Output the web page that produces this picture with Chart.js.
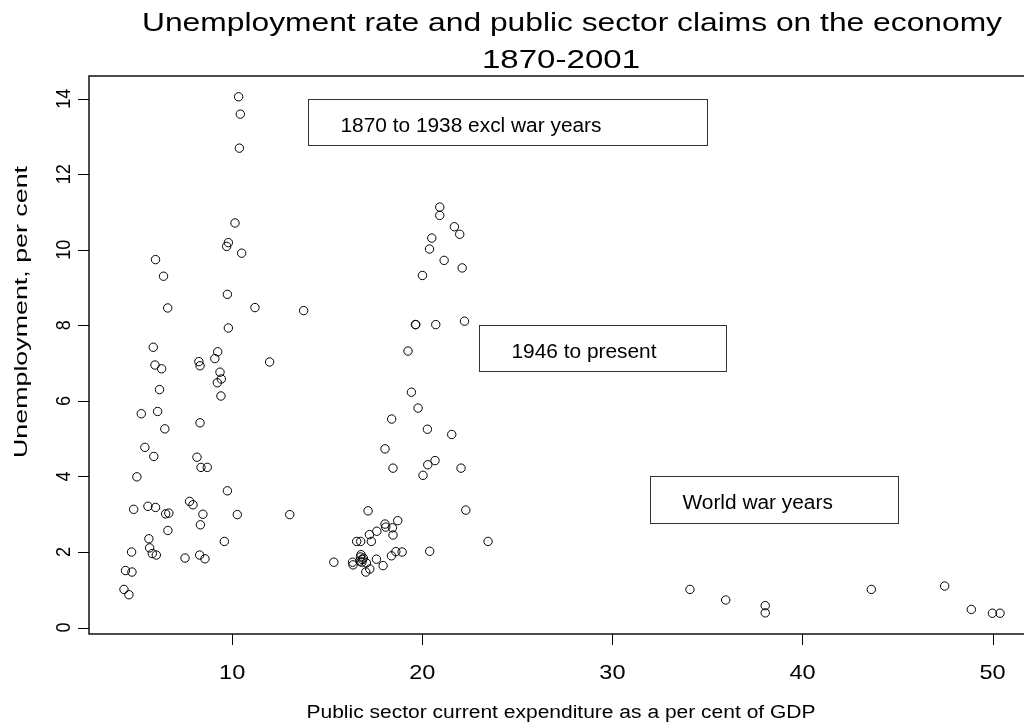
<!DOCTYPE html>
<html>
<head>
<meta charset="utf-8">
<script src="https://cdn.jsdelivr.net/npm/chart.js@4.4.1/dist/chart.umd.min.js"></script>
<style>
  html, body { margin: 0; padding: 0; background: #fff; overflow: hidden; }
  #wrap { position: absolute; left: 0; top: 0; width: 1060px; height: 724px; }
</style>
</head>
<body>
<div id="wrap"><canvas id="c" width="1060" height="724"></canvas></div>
<script>
// Public sector current expenditure (% of GDP) and unemployment (%)
// 1870–1938, leaving out 1914–18
const prewarSpend = [10.34, 10.43, 10.38, 10.15, 9.80, 9.71, 10.50, 5.97, 6.39, 6.61,
  9.75, 11.20, 13.76, 9.80, 5.85, 9.24, 8.25, 8.31, 9.09, 11.97,
  5.94, 6.29, 9.36, 9.43, 9.22, 6.18, 9.41, 5.22, 6.08, 8.31,
  6.46, 5.41, 5.88, 8.15, 8.36, 8.69, 4.99, 9.75, 7.76, 7.94,
  4.82, 5.57, 5.97, 6.50, 6.67, 8.46, 10.27, 13.03, 8.33, 6.62,
  5.62, 9.59, 5.66, 4.71, 5.80, 6.01, 8.29, 7.52, 8.57, 4.39,
  4.73, 4.31, 4.57];
const prewarUnemp = [14.05, 13.59, 12.69, 10.71, 10.19, 10.09, 9.91, 9.74, 9.30, 8.46,
  8.82, 8.47, 8.39, 7.93, 7.42, 7.30, 7.04, 6.93, 7.12, 7.03,
  6.95, 6.85, 6.76, 6.58, 6.48, 6.30, 6.13, 5.66, 5.72, 5.42,
  5.26, 4.77, 4.53, 4.51, 4.24, 4.24, 3.99, 3.62, 3.34, 3.25,
  3.13, 3.21, 3.18, 3.01, 3.03, 3.00, 2.99, 2.99, 2.72, 2.57,
  2.35, 2.28, 2.11, 2.00, 1.96, 1.92, 1.92, 1.84, 1.82, 1.51,
  1.47, 1.01, 0.87];

// 1946–2001
const postwarSpend = [20.92, 20.92, 21.69, 21.97, 20.50, 20.38, 21.15, 22.10, 20.01, 19.64,
  19.66, 20.71, 22.22, 19.25, 19.43, 19.78, 18.39, 20.27, 21.55, 18.04,
  18.46, 20.67, 20.29, 22.04, 20.04, 17.15, 22.29, 23.46, 20.39, 18.71,
  18.04, 18.43, 18.08, 17.61, 17.22, 18.46, 17.32, 16.55, 16.76, 18.94,
  18.61, 18.38, 15.35, 16.33, 16.36, 16.78, 16.75, 16.85, 16.82, 17.06,
  17.59, 17.94, 17.03, 17.24, 16.72, 16.90];
const postwarUnemp = [11.13, 10.91, 10.61, 10.41, 10.31, 10.02, 9.72, 9.52, 9.32, 8.02,
  8.02, 8.02, 8.11, 7.32, 6.23, 5.81, 5.52, 5.25, 5.11, 4.73,
  4.22, 4.42, 4.31, 4.22, 4.03, 3.09, 3.11, 2.28, 2.02, 2.83,
  2.74, 2.64, 2.66, 2.55, 2.46, 2.45, 2.28, 2.28, 2.28, 2.00,
  2.01, 1.90, 1.73, 1.73, 1.66, 1.93, 1.87, 1.80, 1.73, 1.71,
  1.81, 1.64, 1.47, 1.55, 1.76, 1.84];

// World war years
const warSpend = [34.08, 35.96, 38.04, 38.04, 43.62, 47.48, 48.88, 49.99, 50.39];
const warUnemp = [1.01, 0.73, 0.58, 0.39, 1.01, 1.10, 0.48, 0.38, 0.38];

const xTicks = [10, 20, 30, 40, 50];
const yTicks = [0, 2, 4, 6, 8, 10, 12, 14];

const titleLines = ['Unemployment rate and public sector claims on the economy', '1870-2001'];
const xTitle = 'Public sector current expenditure as a per cent of GDP';
const yTitle = 'Unemployment, per cent';
const boxLabels = ['1870 to 1938 excl war years', '1946 to present', 'World war years'];

// label boxes, in axis units: [x0, x1, yTop, yBottom]
const boxExtents = [[14, 35, 14.0, 12.78], [23, 36, 8.0, 6.78], [32, 45, 4.0, 2.77]];

const FONT = '"Liberation Sans", Arial, Helvetica, sans-serif';

function toPoints(xs, ys) { return xs.map((x, i) => ({ x: x, y: ys[i] })); }

// text helper: text along its own axis can be fitted to a width (or scaled by kx)
// and stretched across (ky), then rotated
function drawText(ctx, s, x, y, size, opts) {
  opts = opts || {};
  ctx.save();
  ctx.translate(x, y);
  if (opts.rot) ctx.rotate(opts.rot);
  ctx.font = size + 'px ' + FONT;
  const m = ctx.measureText(s).width;
  const kx = opts.width ? opts.width / m : (opts.kx || 1);
  ctx.scale(kx, opts.ky || 1);
  ctx.textAlign = opts.align || 'center';
  ctx.textBaseline = 'alphabetic';
  ctx.fillStyle = '#000';
  ctx.fillText(s, 0, 0);
  ctx.restore();
}

const frame = {
  id: 'frame',
  afterDraw(chart) {
    const ctx = chart.ctx;
    const xs = chart.scales.x, ys = chart.scales.y;
    const a = chart.chartArea;
    ctx.save();
    // plot box
    ctx.strokeStyle = '#111';
    ctx.lineWidth = 1.5;
    ctx.strokeRect(a.left, a.top, a.right - a.left, a.bottom - a.top);
    // ticks
    ctx.lineWidth = 1;
    ctx.strokeStyle = '#000';
    ctx.beginPath();
    xTicks.forEach(v => {
      const px = Math.round(xs.getPixelForValue(v)) + 0.5;
      ctx.moveTo(px, a.bottom); ctx.lineTo(px, a.bottom + 11);
    });
    yTicks.forEach(v => {
      const py = Math.round(ys.getPixelForValue(v)) + 0.5;
      ctx.moveTo(a.left, py); ctx.lineTo(a.left - 11, py);
    });
    ctx.stroke();
    // tick labels
    xTicks.forEach(v => drawText(ctx, String(v), xs.getPixelForValue(v), 679, 21, { kx: 1.12 }));
    yTicks.forEach(v => drawText(ctx, String(v), 69.5, ys.getPixelForValue(v), 19,
      { rot: -Math.PI / 2, kx: 0.95, ky: 1.08 }));
    // axis titles
    drawText(ctx, xTitle, 561, 718, 18, { width: 509 });
    drawText(ctx, yTitle, 27, 312, 18, { rot: -Math.PI / 2, width: 292 });
    // chart title
    drawText(ctx, titleLines[0], 572, 31, 25, { width: 860 });
    drawText(ctx, titleLines[1], 561, 68, 25, { width: 158 });
    // label boxes
    ctx.strokeStyle = '#333';
    ctx.lineWidth = 1;
    boxExtents.forEach((b, i) => {
      const x0 = Math.round(xs.getPixelForValue(b[0])) + 0.5;
      const x1 = Math.round(xs.getPixelForValue(b[1])) + 0.5;
      const y0 = Math.round(ys.getPixelForValue(b[2])) + 0.5;
      const y1 = Math.round(ys.getPixelForValue(b[3])) + 0.5;
      ctx.strokeRect(x0, y0, x1 - x0, y1 - y0);
      drawText(ctx, boxLabels[i], x0 + 32, (y0 + y1) / 2 + 9, 19.5, { kx: 1.07, align: 'left' });
    });
    ctx.restore();
  }
};

const ring = {
  pointStyle: 'circle', pointRadius: 4.2, pointHoverRadius: 4.2,
  borderWidth: 1, borderColor: '#000', backgroundColor: 'rgba(0,0,0,0)', showLine: false
};

new Chart(document.getElementById('c'), {
  type: 'scatter',
  data: {
    datasets: [
      Object.assign({ label: boxLabels[0], data: toPoints(prewarSpend, prewarUnemp) }, ring),
      Object.assign({ label: boxLabels[1], data: toPoints(postwarSpend, postwarUnemp) }, ring),
      Object.assign({ label: boxLabels[2], data: toPoints(warSpend, warUnemp) }, ring)
    ]
  },
  options: {
    responsive: false,
    animation: false,
    devicePixelRatio: 1,
    layout: { padding: { left: 89, top: 76, right: 25, bottom: 90 } },
    plugins: { legend: { display: false }, tooltip: { enabled: false }, title: { display: false } },
    scales: {
      x: { type: 'linear', min: 2.47, max: 52.23, display: false },
      y: { type: 'linear', min: -0.17, max: 14.6, display: false }
    }
  },
  plugins: [frame]
});
</script>
</body>
</html>
